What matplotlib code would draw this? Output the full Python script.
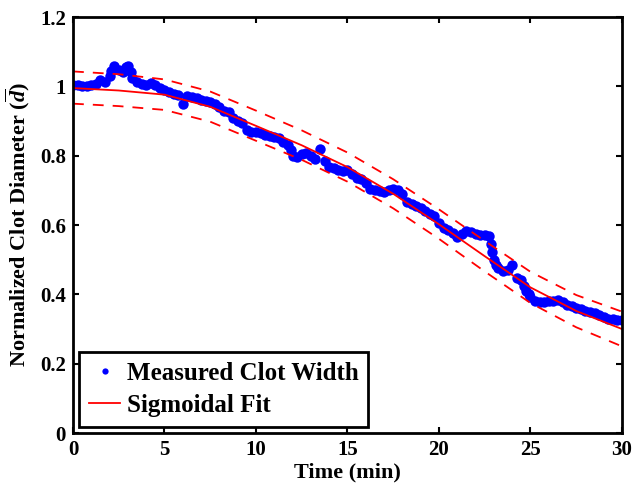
import numpy as np
import matplotlib
matplotlib.use('Agg')
import matplotlib.pyplot as plt

plt.rcParams['font.family'] = ['Liberation Serif', 'DejaVu Serif']
plt.rcParams['font.weight'] = 'bold'
plt.rcParams['mathtext.fontset'] = 'custom'
plt.rcParams['mathtext.rm'] = 'Liberation Serif:bold'
plt.rcParams['mathtext.it'] = 'Liberation Serif:italic:bold'

# measured clot width (normalised)
t_meas = [0.0, 0.25, 0.5, 0.75, 1.0, 1.25, 1.5, 1.75, 2.0, 2.1, 2.25, 2.5, 2.75, 2.9, 3.0,
          3.15, 3.25, 3.5, 3.75, 4.0, 4.25, 4.5, 4.75, 5.0, 5.25, 5.5, 5.75, 6.0, 6.25,
          6.5, 6.75, 7.0, 7.25, 7.5, 7.75, 8.0, 8.25, 8.5, 8.75, 9.0, 9.25, 9.5, 9.75,
          10.0, 10.25, 10.5, 10.75, 11.0, 11.25, 11.5, 11.75, 11.9, 12.0, 12.25, 12.5,
          12.75, 13.0, 13.25, 13.5, 13.75, 14.0, 14.25, 14.5, 14.75, 15.0, 15.25, 15.5,
          15.75, 16.0, 16.25, 16.5, 16.75, 17.0, 17.25, 17.5, 17.75, 18.0, 18.25, 18.5,
          18.75, 19.0, 19.25, 19.5, 19.75, 20.0, 20.25, 20.5, 20.75, 21.0, 21.25, 21.5,
          21.75, 22.0, 22.25, 22.5, 22.75, 22.85, 22.92, 23.0, 23.1, 23.25, 23.5, 23.75,
          24.0, 24.25, 24.5, 24.65, 24.75, 24.9, 25.0, 25.25, 25.5, 25.75, 26.0, 26.25,
          26.5, 26.75, 27.0, 27.25, 27.5, 27.75, 28.0, 28.25, 28.5, 28.75, 29.0, 29.25,
          29.5, 29.75, 30.0]
d_meas = [1.004, 1.003, 1.002, 1.000, 1.003, 1.008, 1.018, 1.012, 1.030, 1.045, 1.058,
          1.048, 1.040, 1.055, 1.060, 1.040, 1.024, 1.012, 1.008, 1.005, 1.010, 1.004,
          0.995, 0.990, 0.985, 0.978, 0.975, 0.950, 0.972, 0.968, 0.965, 0.962, 0.958,
          0.955, 0.948, 0.940, 0.930, 0.925, 0.910, 0.900, 0.895, 0.875, 0.868, 0.868,
          0.864, 0.860, 0.858, 0.855, 0.850, 0.840, 0.832, 0.815, 0.800, 0.797, 0.806,
          0.808, 0.800, 0.790, 0.820, 0.785, 0.768, 0.764, 0.760, 0.755, 0.758, 0.748,
          0.735, 0.732, 0.720, 0.705, 0.700, 0.698, 0.695, 0.702, 0.705, 0.700, 0.690,
          0.665, 0.660, 0.655, 0.650, 0.640, 0.632, 0.625, 0.605, 0.590, 0.585, 0.578,
          0.565, 0.575, 0.582, 0.580, 0.575, 0.572, 0.570, 0.568, 0.545, 0.522, 0.500,
          0.485, 0.475, 0.468, 0.470, 0.485, 0.448, 0.440, 0.425, 0.410, 0.400, 0.392,
          0.382, 0.378, 0.378, 0.380, 0.382, 0.385, 0.378, 0.370, 0.365, 0.362, 0.358,
          0.352, 0.348, 0.345, 0.340, 0.336, 0.330, 0.328, 0.326, 0.326]

# sigmoidal fit and its bounds
t_fit = [0, 2.5, 5, 7.5, 10, 12.5, 15, 17.5, 20, 22.5, 25, 27.5, 30]
d_fit = [0.995, 0.988, 0.976, 0.941, 0.886, 0.830, 0.767, 0.690, 0.602, 0.510, 0.420, 0.352, 0.300]
d_upper = [1.043, 1.035, 1.020, 0.985, 0.930, 0.873, 0.809, 0.732, 0.645, 0.554, 0.465, 0.398, 0.350]
d_lower = [0.950, 0.943, 0.932, 0.898, 0.843, 0.788, 0.725, 0.648, 0.560, 0.466, 0.375, 0.305, 0.250]

fig = plt.figure(figsize=(6.33, 4.90), dpi=100)
ax = fig.add_axes([0.1153, 0.1163, 0.8673, 0.849])

ax.plot(t_meas, d_meas, 'o', color='blue', markersize=7.5, markeredgewidth=0,
        label='Measured Clot Width')
ax.plot(t_fit, d_fit, '-', color='red', linewidth=1.3, label='Sigmoidal Fit')
ax.plot(t_fit, d_upper, '--', color='red', linewidth=1.3, dashes=(6, 5))
ax.plot(t_fit, d_lower, '--', color='red', linewidth=1.3, dashes=(6, 5))

ax.set_xlim(0, 30)
ax.set_ylim(0, 1.2)
ax.set_xticks([0, 5, 10, 15, 20, 25, 30])
ax.set_yticks([0, 0.2, 0.4, 0.6, 0.8, 1.0, 1.2])
ax.set_yticklabels(['0', '0.2', '0.4', '0.6', '0.8', '1', '1.2'])
ax.tick_params(direction='in', top=True, right=True, length=4, width=1.5,
               labelsize=15, pad=5)
for s in ax.spines.values():
    s.set_linewidth(2)

ax.set_xlabel('Time (min)', fontsize=16, fontweight='bold', labelpad=2)
ax.set_ylabel(r'Normalized Clot Diameter ($\overline{d}$)', fontsize=16,
              fontweight='bold', labelpad=6)

leg = ax.legend(loc='lower left', fontsize=18, frameon=True, fancybox=False,
                edgecolor='black', framealpha=1, markerscale=0.6, handlelength=1.25,
                borderpad=0.4, labelspacing=0.35, handletextpad=0.25,
                borderaxespad=0.25)
leg.get_frame().set_linewidth(2)

fig.savefig('out.png', dpi=100)
